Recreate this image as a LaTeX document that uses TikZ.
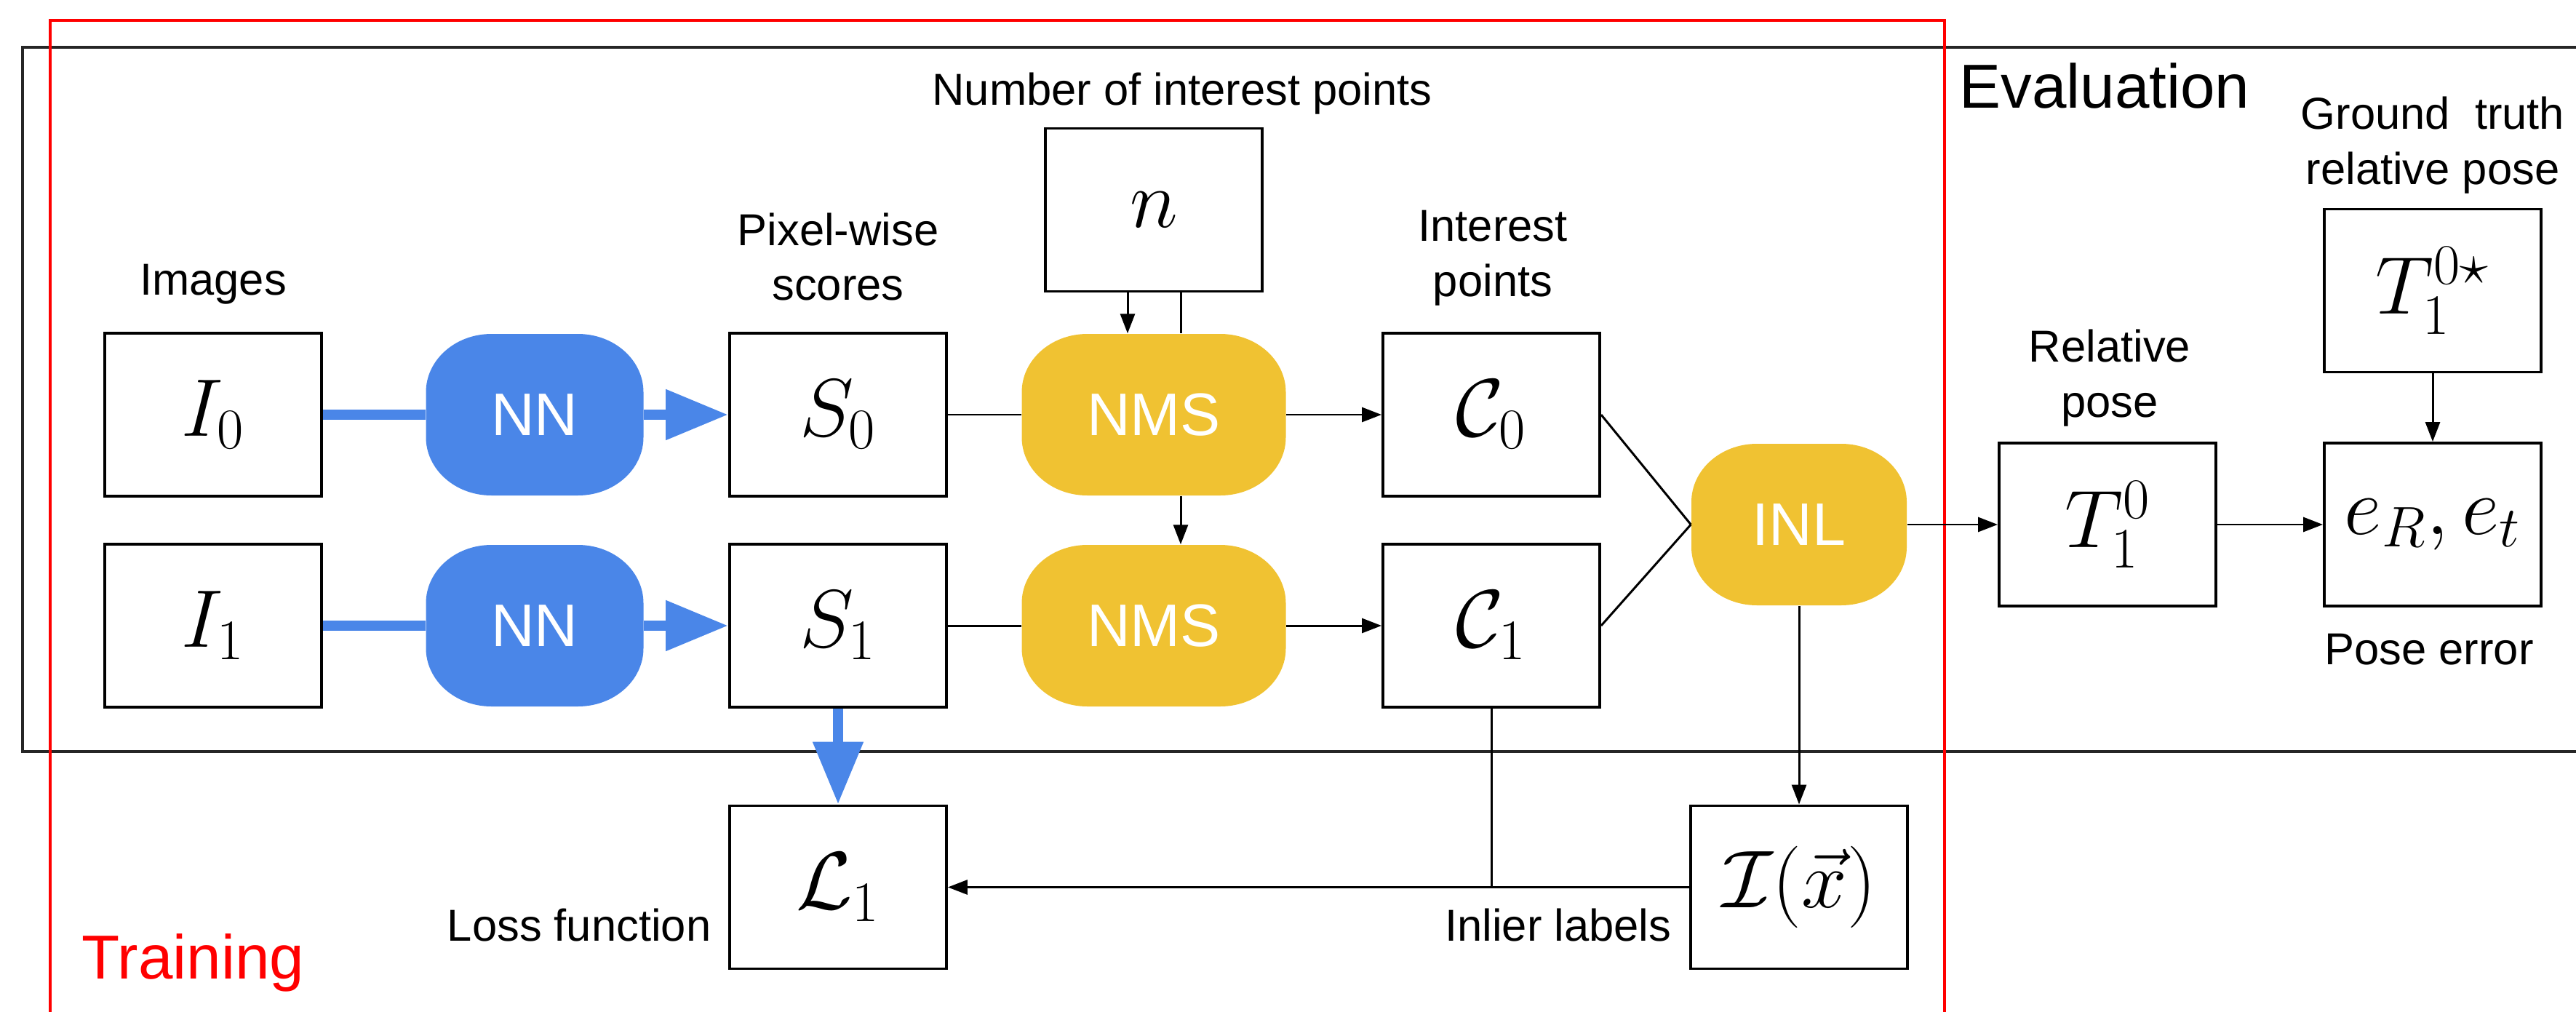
\documentclass[tikz,border=0pt]{standalone}
\usepackage{fix-cm}
\usepackage[no-math]{fontspec}
\setmainfont{Liberation Sans}
\usetikzlibrary{arrows.meta}
\definecolor{nnblue}{RGB}{74,134,232}
\definecolor{nmsyel}{RGB}{240,194,50}
\definecolor{trred}{RGB}{255,0,0}
\newcommand{\lbsize}{\fontsize{17.5}{21.6}\selectfont}
\newcommand{\ttlsize}{\fontsize{24.3}{29}\selectfont}
\tikzset{%
    blk/.style={draw, line width=1.1pt, minimum width=2.98cm, minimum height=2.24cm, inner sep=0pt, font=\fontsize{32}{38}\selectfont},
    blob/.style={minimum height=2.22cm, inner sep=0pt, text=white, font=\fontsize{23.5}{28}\selectfont,
        path picture={\fill[#1] ([xshift=0.9cm]path picture bounding box.north west)
            -- ([xshift=-0.9cm]path picture bounding box.north east)
            arc[start angle=90, end angle=0, x radius=0.9cm, y radius=0.8cm]
            -- ([yshift=0.8cm]path picture bounding box.south east)
            arc[start angle=0, end angle=-90, x radius=0.9cm, y radius=0.8cm]
            -- ([xshift=0.9cm]path picture bounding box.south west)
            arc[start angle=270, end angle=180, x radius=0.9cm, y radius=0.8cm]
            -- ([yshift=-0.8cm]path picture bounding box.north west)
            arc[start angle=180, end angle=90, x radius=0.9cm, y radius=0.8cm] -- cycle;}},
    nnb/.style={blob=nnblue, minimum width=2.99cm},
    nms/.style={blob=nmsyel, minimum width=3.63cm},
    lab/.style={align=center, font=\lbsize, inner sep=0pt},
    lin/.style={line width=0.85pt},
    arr/.style={line width=0.85pt, -{Triangle[length=0.27cm, width=0.2cm]}},
    blu/.style={line width=4.2pt, nnblue},
    blua/.style={line width=4.2pt, nnblue, -{Triangle[length=0.86cm, width=0.66cm]}},
}

\begin{document}
\begin{tikzpicture}
    \useasboundingbox (0,0) rectangle (35.41,13.90);
    \clip (0,0) rectangle (35.41,13.90);
    % frames
    \draw [line width=1.2pt, black!85](36,13.25) -- (0.31,13.25) -- (0.31,3.57) -- (36,3.57);
    \draw [line width=1pt, trred](0.69,-1) -- (0.69,13.62) -- (26.73,13.62) -- (26.73,-1);
    \node [font=\ttlsize] at (28.93,12.72) {Evaluation};
    \node [font=\ttlsize, text=trred, anchor=base west, inner sep=0pt] at (1.12,0.45) {Training};
    % blocks
    \node [blk] (I0) at (2.93,8.20) {$I_0$};
    \node [blk] (I1) at (2.93,5.30) {$I_1$};
    \node [nnb] (NN0) at (7.35,8.20) {NN};
    \node [nnb] (NN1) at (7.35,5.30) {NN};
    \node [blk] (S0) at (11.52,8.20) {$S_0$};
    \node [blk] (S1) at (11.52,5.30) {$S_1$};
    \node [nms] (NMS0) at (15.86,8.20) {NMS};
    \node [nms] (NMS1) at (15.86,5.30) {NMS};
    \node [blk] (C0) at (20.50,8.20) {$\mathcal{C}_0$};
    \node [blk] (C1) at (20.50,5.30) {$\mathcal{C}_1$};
    \node [blk] (n) at (15.86,11.015) {$n$};
    \node [blob=nmsyel, minimum width=2.96cm] (INL) at (24.73,6.69) {INL};
    \node [blk] (T10) at (28.97,6.69) {$T_1^0$};
    \node [blk] (err) at (33.44,6.69) {$e_R, e_t$};
    \node [blk] (Tgt) at (33.44,9.905) {$T_1^{0\star}$};
    \node [blk] (L1) at (11.52,1.705) {$\mathcal{L}_1$};
    \node [blk] (Ix) at (24.73,1.705) {$\mathcal{I}(\vec{x})$};
    % labels
    \node [lab] at (2.93,9.99) {Images};
    \node [lab] at (11.52,10.37) {Pixel-wise\\scores};
    \node [lab] at (16.25,12.61) {Number of interest points};
    \node [lab] at (20.52,10.35) {Interest\\points};
    \node [lab] at (29.00,8.70) {Relative\\pose};
    \node [lab] at (33.44,11.90) {Ground~~truth\\relative pose};
    \node [lab] at (33.39,4.97) {Pose error};
    \node [lab, anchor=east] at (9.78,1.18) {Loss function};
    \node [lab, anchor=east] at (22.98,1.18) {Inlier labels};
    % connectors
    \draw [blu](I0) -- (NN0);
    \draw [blua](NN0) -- (S0);
    \draw [blu](I1) -- (NN1);
    \draw [blua](NN1) -- (S1);
    \draw [blua](S1) -- (L1);
    \draw [lin](S0) -- (NMS0);
    \draw [arr](NMS0) -- (C0);
    \draw [lin](S1) -- (NMS1);
    \draw [arr](NMS1) -- (C1);
    \draw [arr]([xshift=-0.36cm]n.south) -- ([xshift=-0.36cm]NMS0.north);
    \draw [lin]([xshift=0.37cm]n.south) -- ([xshift=0.37cm]NMS0.north);
    \draw [arr]([xshift=0.37cm]NMS0.south) -- ([xshift=0.37cm]NMS1.north);
    \draw [lin](C0.east) -- (INL.west);
    \draw [lin](C1.east) -- (INL.west);
    \draw [arr](INL) -- (T10);
    \draw [arr](T10) -- (err);
    \draw [arr](Tgt) -- (err);
    \draw [arr](INL) -- (Ix);
    \draw [arr](Ix) -- (L1);
    \draw [lin](C1.south) -- (C1.south |- Ix.west);
\end{tikzpicture}
\end{document}
